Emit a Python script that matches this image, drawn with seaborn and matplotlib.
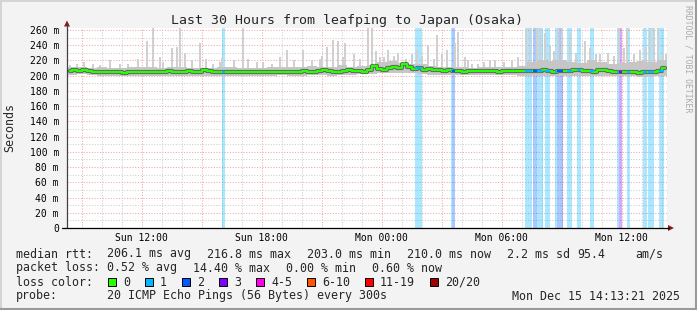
import numpy as np
import pandas as pd
import matplotlib
matplotlib.use("Agg")
import matplotlib.pyplot as plt
import seaborn as sns
from matplotlib.lines import Line2D
from matplotlib.patches import Polygon, Rectangle

# ---------------- data ----------------
title = "Last 30 Hours from leafping to Japan (Osaka)"
start_hour = 8.265          # hours after Sun 00:00 at the left edge
span_hours = 30
step_hours = 0.25           # median sampled every 15 min

median_ms = [
    206.5, 207, 206, 207, 206.5, 205.5,
    205.5, 205, 205.5, 204.5, 205, 204, 205, 205.5, 204.5, 204.5, 205, 205.5, 205,
    205.5, 206, 205, 205, 205.5, 206, 205.5,
    205.5, 207.5, 206, 205, 205.5, 205, 205.5,
    205, 204.5, 205.5, 205, 204.5, 205, 205.5, 204.5, 205, 205.5, 205, 204.5, 205,
    205.5, 206.5, 205.5, 205.5, 206, 207, 206, 205.5, 205, 206, 207.5, 206.5, 206.5,
    205.5, 208, 213, 209,
    208, 209.5, 211, 210, 216, 211, 209, 210.5, 208, 209,
    207.5, 207, 206, 207, 206,
    206, 205.5, 206.5, 206, 206.5, 206, 206.5, 206, 205.5, 206, 206.5, 206, 206, 206,
    206, 206.5, 206.5, 207, 206.5, 205.5, 206, 206.5, 206.5, 207, 207, 206.5, 206, 205.5,
    207, 207, 206, 205.5, 205,
    205, 204.5, 205.5, 204, 204.5, 205, 205.5, 206, 209.5,
]

smoke_step_hours = 0.5
smoke_lo_ms = [201, 202, 201, 200, 200, 199, 200, 200, 200, 199, 200, 199, 200, 200, 199,
               200, 200, 200, 199, 200, 200, 201, 200, 200, 201, 201, 200, 201, 201, 202,
               202, 204, 204, 203, 203, 202, 201, 201, 201, 201, 201, 201, 201, 201, 201,
               200, 199, 199, 199, 200, 199, 199, 199, 199, 200, 199, 199, 198, 199, 199]
smoke_hi_ms = [211, 212, 210, 211, 210, 210, 211, 212, 211, 210, 212, 211, 210, 210, 210,
               211, 212, 210, 210, 210, 211, 211, 212, 211, 213, 212, 211, 214, 212, 213,
               214, 218, 219, 217, 216, 215, 213, 212, 211, 211, 210, 211, 212, 211, 211,
               213, 218, 220, 219, 221, 218, 217, 220, 218, 216, 217, 218, 219, 218, 221]

spike_hours = [8.77, 9.57, 12.27, 12.57, 13.07, 13.52, 13.77, 13.92, 14.17, 14.92, 15.57,
               16.02, 17.07, 17.77, 18.07, 19.27, 20.07, 20.52, 21.27, 21.57, 21.82, 22.07,
               22.17, 23.32, 23.52, 23.92, 24.32, 24.82, 25.77, 26.32, 26.77, 27.27, 27.67,
               27.82, 28.17, 28.52, 28.82, 29.67, 31.22, 31.42, 31.77, 31.92, 32.17, 32.82,
               33.02, 33.42, 34.17, 34.92, 35.87, 36.27, 36.92, 37.42, 37.62, 37.82, 38.07,
               8.40, 9.10, 9.90, 10.40, 10.90, 11.30, 11.80, 12.90, 14.50, 15.20, 15.90,
               16.60, 17.30, 18.50, 18.90, 19.60, 20.90, 21.00, 22.60, 22.90, 23.70, 24.10,
               24.60, 25.20, 25.50, 26.00, 26.60, 27.00, 28.30, 29.10, 29.40, 30.10, 30.50,
               30.80, 32.40, 32.60, 33.70, 34.40, 34.70, 35.30, 35.60, 36.10, 36.60, 37.20,
               38.20]
spike_top_ms = [216, 216, 245, 262, 218, 236, 238, 262, 230, 243, 216,
                223, 262, 218, 218, 234, 234, 220, 238, 247, 245, 225,
                243, 262, 262, 225, 234, 230, 234, 240, 253, 234, 243,
                258, 225, 216, 216, 220, 262, 262, 262, 262, 256, 262,
                262, 256, 245, 228, 262, 262, 234, 262, 262, 262, 230,
                214, 218, 214, 220, 216, 215, 222, 224, 220, 222, 218,
                220, 222, 216, 224, 220, 222, 226, 228, 222, 232, 224,
                226, 222, 228, 226, 222, 228, 220, 218, 221, 218, 220,
                224, 240, 232, 230, 236, 228, 230, 226, 236, 228, 238,
                228]

loss_start_hours = [16.00, 25.67, 27.45, 27.52, 31.14, 31.57, 31.77, 32.17, 32.67, 32.77,
                    33.25, 33.77, 34.39, 35.77, 35.87, 36.25, 37.08, 37.33, 37.87]
loss_end_hours = [16.16, 26.02, 27.52, 27.67, 31.52, 31.77, 32.07, 32.42, 32.77, 33.04,
                  33.50, 33.94, 34.62, 35.87, 36.02, 36.42, 37.25, 37.62, 38.09]
loss_level = [1, 1, 1, 2, 1, 2, 1, 1, 1, 2, 1, 1, 1, 1, 3, 1, 1, 1, 1]

x_tick_hours = [12, 18, 24, 30, 36]
x_tick_labels = ["Sun 12:00", "Sun 18:00", "Mon 00:00", "Mon 06:00", "Mon 12:00"]
y_tick_ms = list(range(0, 261, 20))
y_tick_labels = ["0"] + [f"{v} m" for v in y_tick_ms[1:]]

loss_labels = ["0", "1", "2", "3", "4-5", "6-10", "11-19", "20/20"]
loss_colors = ["#26ff00", "#00b8ff", "#0059ff", "#7e00ff", "#ff00ea", "#ff5500", "#ff0000", "#a10000"]

rtt_stats = ["206.1 ms avg", "216.8 ms max", "203.0 ms min", "210.0 ms now", "2.2 ms sd", "95.4", "am/s"]
loss_stats = ["0.52 % avg", "14.40 % max", "0.00 % min", "0.60 % now"]
probe_text = "20 ICMP Echo Pings (56 Bytes) every 300s"
stamp_text = "Mon Dec 15 14:13:21 2025"

# ---------------- figure ----------------
sns.set_theme(style="white")
plt.rcParams["font.family"] = ["DejaVu Sans Mono"]

W, H = 697, 310
fig = plt.figure(figsize=(W / 100, H / 100), dpi=100)
fig.patch.set_facecolor("#f3f3f3")


def fx(px):
    return px / W


def fy(py):
    return 1 - py / H


ax = fig.add_axes([fx(67), fy(228), fx(667) - fx(67), fy(28) - fy(228)])
ax.set_facecolor("white")
ms_per_px = 260 / (228 - 30)
ax.set_xlim(start_hour, start_hour + span_hours)
ax.set_ylim(0, 200 * ms_per_px)
for s in ax.spines.values():
    s.set_visible(False)

# grid
dot = (0, (1, 1.6))
for h in np.arange(np.ceil(start_hour), start_hour + span_hours, 1):
    major = int(round(h)) % 3 == 0
    ax.axvline(h, color="#f2a4a4" if major else "#cdcdcd", lw=0.75, ls=dot, zorder=0)
for v in np.arange(10, 262, 10):
    major = int(v) % 20 == 0
    ax.axhline(v, color="#f2a4a4" if major else "#cdcdcd", lw=0.75, ls=dot, zorder=0)

# loss background bands
for s, e, l in zip(loss_start_hours, loss_end_hours, loss_level):
    ax.axvspan(s, e, color=loss_colors[l], alpha=0.33, lw=0, zorder=1)

# smoke: light spikes then the main band
ax.bar(spike_hours, np.array(spike_top_ms) - 203, bottom=203, width=0.1,
       color="#d0d0d0", lw=0, zorder=2)
edges = start_hour + smoke_step_hours * np.arange(len(smoke_lo_ms) + 1)
ax.fill_between(edges, smoke_lo_ms + smoke_lo_ms[-1:], smoke_hi_ms + smoke_hi_ms[-1:],
                step="post", color="#c6c6c6", lw=0, zorder=3)

# median
t = start_hour + step_hours * (np.arange(len(median_ms)) + 0.5)
df = pd.DataFrame({"t": t, "rtt": median_ms})
ax.plot(t, median_ms, drawstyle="steps-mid", color="#3a3a3a", lw=3.0, alpha=0.7, zorder=4)
sns.lineplot(data=df, x="t", y="rtt", ax=ax, color=loss_colors[0], lw=1.6,
             drawstyle="steps-mid", zorder=5)
for s, e, l in zip(loss_start_hours, loss_end_hours, loss_level):
    idx = int(np.clip((0.5 * (s + e) - start_hour) // step_hours, 0, len(median_ms) - 1))
    ax.hlines(median_ms[idx], s, e, color=loss_colors[l], lw=1.6, zorder=6)

ax.set_xlabel("")
ax.set_ylabel("")
ax.set_xticks(x_tick_hours, x_tick_labels)
ax.set_yticks(y_tick_ms, y_tick_labels)
ax.tick_params(axis="both", length=0, labelsize=7.0, colors="black")
ax.tick_params(axis="y", pad=5.8)
ax.tick_params(axis="x", pad=3.4)

# axis lines and arrows
fig.add_artist(Line2D([fx(67), fx(67)], [fy(228), fy(25)], color="#404040", lw=0.9))
fig.add_artist(Line2D([fx(62), fx(669)], [fy(228), fy(228)], color="black", lw=0.9))
fig.add_artist(Polygon([(fx(64), fy(26.5)), (fx(70), fy(26.5)), (fx(67), fy(20.5))],
                       closed=True, color="#8b1a1a", lw=0))
fig.add_artist(Polygon([(fx(668), fy(225)), (fx(668), fy(231)), (fx(674), fy(228))],
                       closed=True, color="#8b1a1a", lw=0))

# frame shading
fig.add_artist(Line2D([0, 1], [fy(0.7), fy(0.7)], color="#d4d4d4", lw=1.4))
fig.add_artist(Line2D([fx(0.7), fx(0.7)], [0, 1], color="#d4d4d4", lw=1.4))
fig.add_artist(Line2D([0, 1], [fy(309), fy(309)], color="#9a9a9a", lw=1.5))
fig.add_artist(Line2D([fx(696), fx(696)], [0, 1], color="#9a9a9a", lw=1.5))

# texts
fig.text(fx(347), fy(24), title, ha="center", va="baseline", fontsize=9.5)
fig.text(fx(10), fy(128), "Seconds", rotation=90, ha="center", va="center", fontsize=8.4)
fig.text(fx(688), fy(5), "RRDTOOL / TOBI OETIKER", rotation=270, ha="center", va="top",
         fontsize=5.9, color="#aaaaaa")

fs = 8.4
fig.text(fx(16), fy(257.5), "median rtt:", fontsize=fs, va="baseline")
for txt, xp in zip(rtt_stats, [107, 207, 307, 407, 507, 577, 635]):
    fig.text(fx(xp), fy(257.5), txt, fontsize=fs, va="baseline")
fig.text(fx(16), fy(271.5), "packet loss:", fontsize=fs, va="baseline")
for txt, xp in zip(loss_stats, [107, 193, 286, 372]):
    fig.text(fx(xp), fy(271.5), txt, fontsize=fs, va="baseline")
fig.text(fx(16), fy(285.5), "loss color:", fontsize=fs, va="baseline")
xc = 108
for lab, col in zip(loss_labels, loss_colors):
    fig.add_artist(Rectangle((fx(xc), fy(285.5)), 8 / W, 7.5 / H, facecolor=col,
                             edgecolor="black", lw=0.7))
    fig.text(fx(xc + 15), fy(285.5), lab, fontsize=fs, va="baseline")
    xc = xc + 15 + 7 * len(lab) + 15
fig.text(fx(16), fy(299.5), "probe:", fontsize=fs, va="baseline")
fig.text(fx(107), fy(299.5), probe_text, fontsize=fs, va="baseline")
fig.text(fx(680), fy(299.5), stamp_text, fontsize=fs, va="baseline", ha="right")

fig.savefig("out.png", dpi=100, facecolor=fig.get_facecolor())
